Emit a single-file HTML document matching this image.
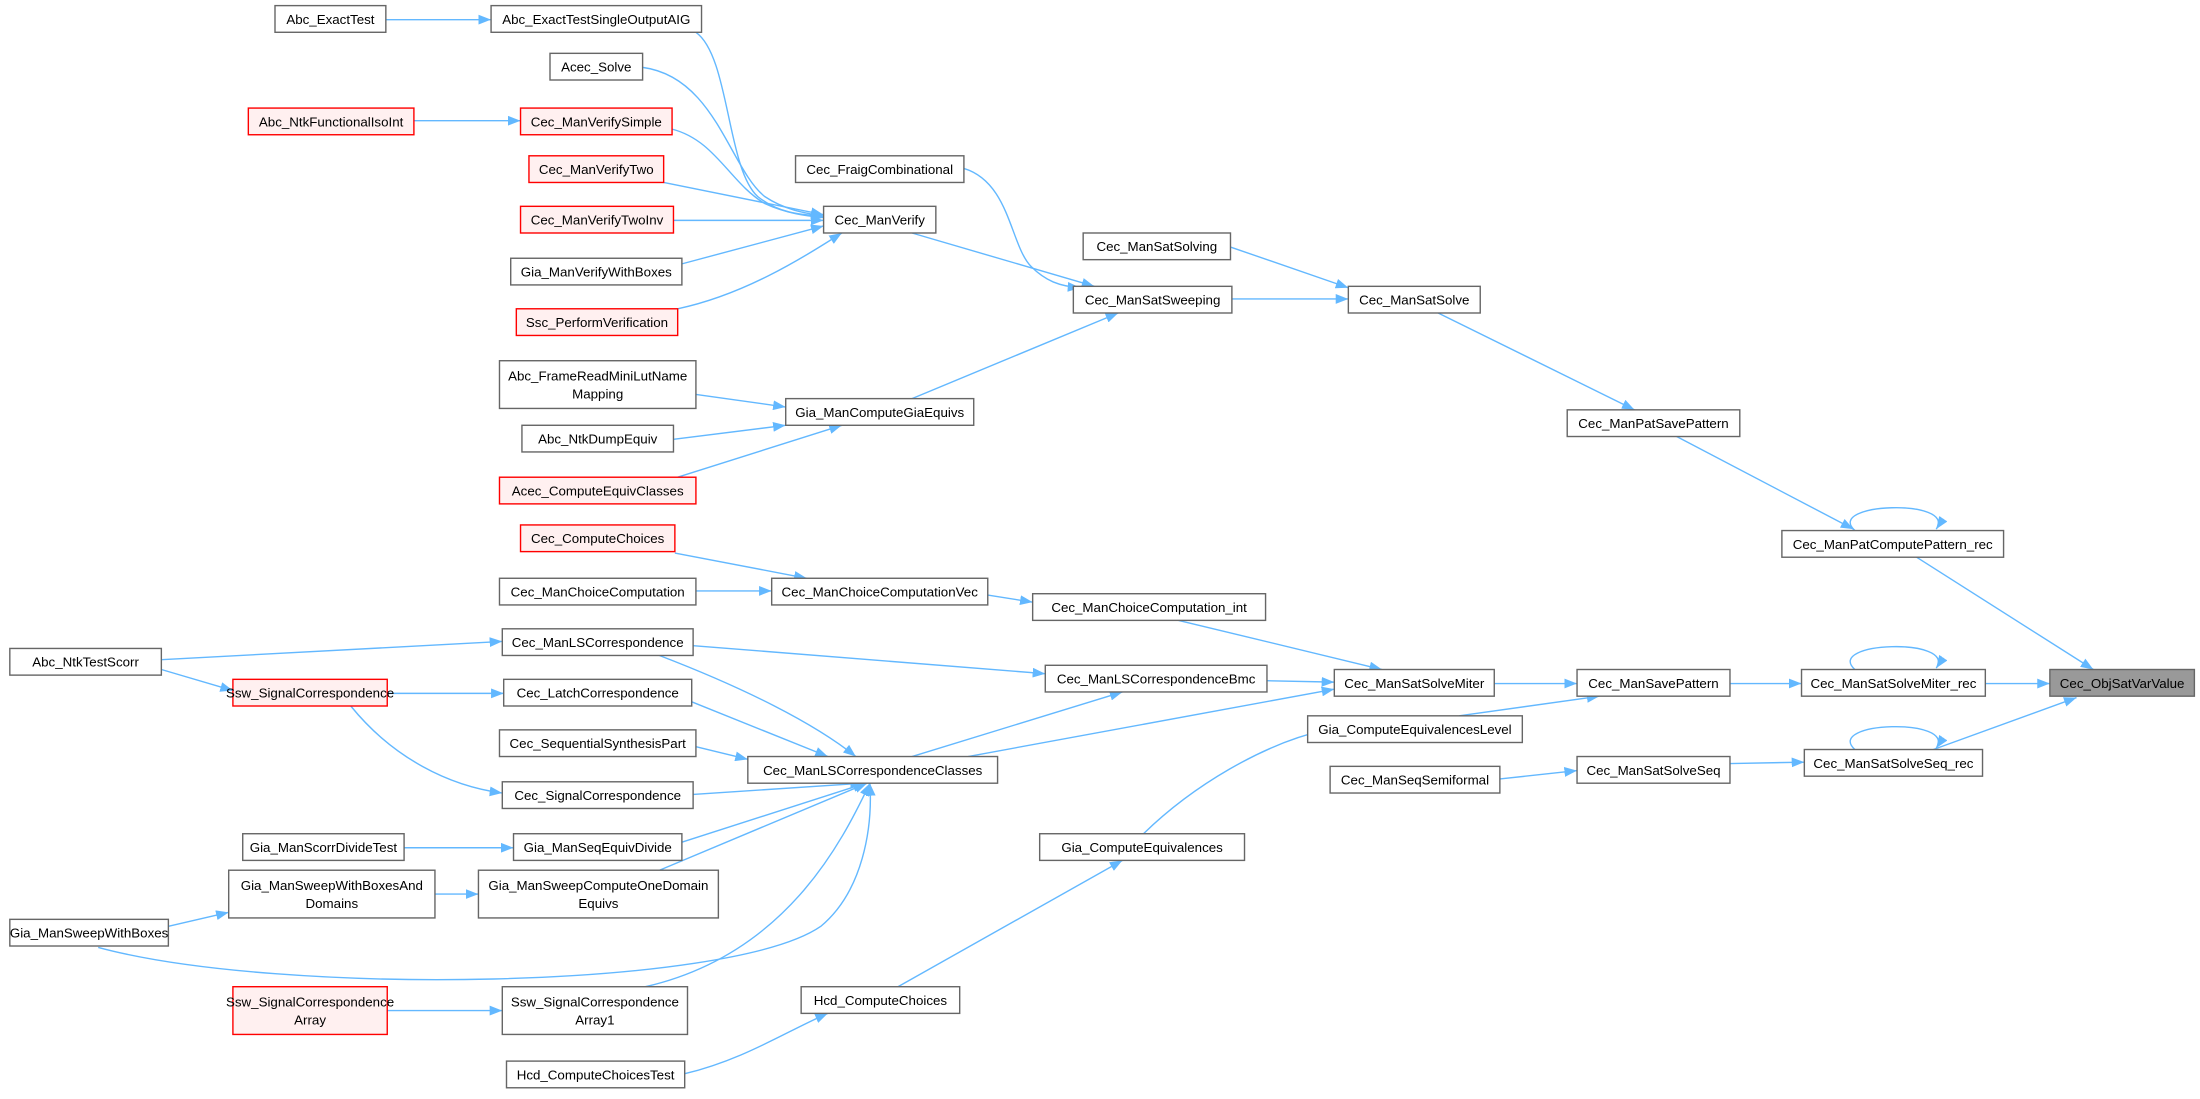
<!DOCTYPE html>
<html><head><meta charset="utf-8"><style>
html,body{margin:0;padding:0;background:#fff;}
svg{display:block;}
text{font-family:"Liberation Sans",Arial,sans-serif;font-size:9.5px;fill:#000;text-anchor:middle;}
.n{fill:#fff;stroke:#666;stroke-width:1;}
.r{fill:#fff0f0;stroke:#f00;stroke-width:1;}
.g{fill:#999;stroke:#666;stroke-width:1;}
.e{fill:none;stroke:#63b8ff;stroke-width:1;marker-end:url(#a);}
</style></head><body>
<svg width="2200" height="1099" viewBox="0 0 1568 783" preserveAspectRatio="none" xmlns="http://www.w3.org/2000/svg">
<defs><marker id="a" markerUnits="userSpaceOnUse" markerWidth="9" markerHeight="7" refX="9" refY="3.5" orient="auto"><path d="M0,0 L9,3.5 L0,7z" fill="#63b8ff"/></marker></defs>
<g>
<path class="e" d="M275,14 L350,14"/>
<path class="e" d="M496,23 C520,40 518,120 540,140 C555,152 570,153 587,154"/>
<path class="e" d="M458,48 C510,55 520,120 545,140 C560,150 575,152 587,154"/>
<path class="e" d="M295,86 L371,86"/>
<path class="e" d="M479,92 C510,100 520,130 545,145 C560,152 575,154 587,155"/>
<path class="e" d="M473,130 L587,153"/>
<path class="e" d="M480,157 L587,157"/>
<path class="e" d="M486,188 L587,161"/>
<path class="e" d="M483,220 C530,210 570,185 600,166"/>
<path class="e" d="M687,120 C720,130 720,175 735,190 C745,200 755,204 770,205"/>
<path class="e" d="M650,166 L780,204"/>
<path class="e" d="M650,284 L797,223"/>
<path class="e" d="M496,281 L560,290"/>
<path class="e" d="M480,313 L560,303"/>
<path class="e" d="M483,340 L600,303"/>
<path class="e" d="M877,176 L961,205"/>
<path class="e" d="M878,213 L961,213"/>
<path class="e" d="M1025,223 L1165,292"/>
<path class="e" d="M1195,311 L1321,377"/>
<path class="e" d="M1322,378 C1300,358 1395,355 1380,377"/>
<path class="e" d="M1366,397 L1492,477"/>
<path class="e" d="M1322,477 C1300,457 1395,454 1380,476"/>
<path class="e" d="M1415,487 L1461,487"/>
<path class="e" d="M1322,534 C1300,514 1395,511 1380,533"/>
<path class="e" d="M1378,534 L1480,497"/>
<path class="e" d="M1233,487 L1284,487"/>
<path class="e" d="M1233,544 L1286,543"/>
<path class="e" d="M1069,555 L1124,549"/>
<path class="e" d="M1065,487 L1124,487"/>
<path class="e" d="M1040,510 L1140,496"/>
<path class="e" d="M840,442 L985,477"/>
<path class="e" d="M903,485 L951,486"/>
<path class="e" d="M690,539 L951,491"/>
<path class="e" d="M650,539 L800,493"/>
<path class="e" d="M494,460 L745,480"/>
<path class="e" d="M704,424 L736,429"/>
<path class="e" d="M481,394 L575,412"/>
<path class="e" d="M496,421 L550,421"/>
<path class="e" d="M115,470 L358,457"/>
<path class="e" d="M115,477 L166,492"/>
<path class="e" d="M470,467 C530,490 580,515 610,539"/>
<path class="e" d="M276,494 L359,494"/>
<path class="e" d="M250,503 C280,540 320,560 358,565"/>
<path class="e" d="M493,500 L590,539"/>
<path class="e" d="M496,532 L533,541"/>
<path class="e" d="M494,566 L615,558"/>
<path class="e" d="M486,600 L617,558"/>
<path class="e" d="M470,620 L618,558"/>
<path class="e" d="M70,675 C200,710 520,705 585,660 C615,635 622,590 620,558"/>
<path class="e" d="M460,703 C560,680 600,600 620,558"/>
<path class="e" d="M288,604 L366,604"/>
<path class="e" d="M310,637 L341,637"/>
<path class="e" d="M120,660 L163,650"/>
<path class="e" d="M276,720 L358,720"/>
<path class="e" d="M815,594 C850,560 900,530 945,520"/>
<path class="e" d="M640,703 L800,613"/>
<path class="e" d="M488,765 C530,755 560,735 590,722"/>
</g>
<g>
<rect class="n" x="7" y="462" width="108" height="19"/><text x="61" y="475">Abc_NtkTestScorr</text>
<rect class="n" x="7" y="655" width="113" height="19"/><text x="63.5" y="668">Gia_ManSweepWithBoxes</text>
<rect class="n" x="196" y="4" width="79" height="19"/><text x="235.5" y="17">Abc_ExactTest</text>
<rect class="r" x="177" y="77" width="118" height="19"/><text x="236" y="90">Abc_NtkFunctionalIsoInt</text>
<rect class="r" x="166" y="484" width="110" height="19"/><text x="221" y="497">Ssw_SignalCorrespondence</text>
<rect class="n" x="173" y="594" width="115" height="19"/><text x="230.5" y="607">Gia_ManScorrDivideTest</text>
<rect class="n" x="163" y="620" width="147" height="34"/><text x="236.5" y="634">Gia_ManSweepWithBoxesAnd</text><text x="236.5" y="647">Domains</text>
<rect class="r" x="166" y="703" width="110" height="34"/><text x="221" y="717">Ssw_SignalCorrespondence</text><text x="221" y="730">Array</text>
<rect class="n" x="350" y="4" width="150" height="19"/><text x="425" y="17">Abc_ExactTestSingleOutputAIG</text>
<rect class="n" x="392" y="38" width="66" height="19"/><text x="425" y="51">Acec_Solve</text>
<rect class="r" x="371" y="77" width="108" height="19"/><text x="425" y="90">Cec_ManVerifySimple</text>
<rect class="r" x="377" y="111" width="96" height="19"/><text x="425" y="124">Cec_ManVerifyTwo</text>
<rect class="r" x="371" y="147" width="109" height="19"/><text x="425.5" y="160">Cec_ManVerifyTwoInv</text>
<rect class="n" x="364" y="184" width="122" height="19"/><text x="425" y="197">Gia_ManVerifyWithBoxes</text>
<rect class="r" x="368" y="220" width="115" height="19"/><text x="425.5" y="233">Ssc_PerformVerification</text>
<rect class="n" x="356" y="257" width="140" height="34"/><text x="426" y="271">Abc_FrameReadMiniLutName</text><text x="426" y="284">Mapping</text>
<rect class="n" x="372" y="303" width="108" height="19"/><text x="426" y="316">Abc_NtkDumpEquiv</text>
<rect class="r" x="356" y="340" width="140" height="19"/><text x="426" y="353">Acec_ComputeEquivClasses</text>
<rect class="r" x="371" y="374" width="110" height="19"/><text x="426" y="387">Cec_ComputeChoices</text>
<rect class="n" x="356" y="412" width="140" height="19"/><text x="426" y="425">Cec_ManChoiceComputation</text>
<rect class="n" x="358" y="448" width="136" height="19"/><text x="426" y="461">Cec_ManLSCorrespondence</text>
<rect class="n" x="359" y="484" width="134" height="19"/><text x="426" y="497">Cec_LatchCorrespondence</text>
<rect class="n" x="356" y="520" width="140" height="19"/><text x="426" y="533">Cec_SequentialSynthesisPart</text>
<rect class="n" x="358" y="557" width="136" height="19"/><text x="426" y="570">Cec_SignalCorrespondence</text>
<rect class="n" x="366" y="594" width="120" height="19"/><text x="426" y="607">Gia_ManSeqEquivDivide</text>
<rect class="n" x="341" y="620" width="171" height="34"/><text x="426.5" y="634">Gia_ManSweepComputeOneDomain</text><text x="426.5" y="647">Equivs</text>
<rect class="n" x="358" y="703" width="132" height="34"/><text x="424" y="717">Ssw_SignalCorrespondence</text><text x="424" y="730">Array1</text>
<rect class="n" x="361" y="756" width="127" height="19"/><text x="424.5" y="769">Hcd_ComputeChoicesTest</text>
<rect class="n" x="567" y="111" width="120" height="19"/><text x="627" y="124">Cec_FraigCombinational</text>
<rect class="n" x="587" y="147" width="80" height="19"/><text x="627" y="160">Cec_ManVerify</text>
<rect class="n" x="560" y="284" width="134" height="19"/><text x="627" y="297">Gia_ManComputeGiaEquivs</text>
<rect class="n" x="550" y="412" width="154" height="19"/><text x="627" y="425">Cec_ManChoiceComputationVec</text>
<rect class="n" x="533" y="539" width="178" height="19"/><text x="622" y="552">Cec_ManLSCorrespondenceClasses</text>
<rect class="n" x="571" y="703" width="113" height="19"/><text x="627.5" y="716">Hcd_ComputeChoices</text>
<rect class="n" x="772" y="166" width="105" height="19"/><text x="824.5" y="179">Cec_ManSatSolving</text>
<rect class="n" x="765" y="204" width="113" height="19"/><text x="821.5" y="217">Cec_ManSatSweeping</text>
<rect class="n" x="736" y="423" width="166" height="19"/><text x="819" y="436">Cec_ManChoiceComputation_int</text>
<rect class="n" x="745" y="474" width="158" height="19"/><text x="824" y="487">Cec_ManLSCorrespondenceBmc</text>
<rect class="n" x="932" y="510" width="153" height="19"/><text x="1008.5" y="523">Gia_ComputeEquivalencesLevel</text>
<rect class="n" x="948" y="546" width="121" height="19"/><text x="1008.5" y="559">Cec_ManSeqSemiformal</text>
<rect class="n" x="741" y="594" width="146" height="19"/><text x="814" y="607">Gia_ComputeEquivalences</text>
<rect class="n" x="961" y="204" width="94" height="19"/><text x="1008" y="217">Cec_ManSatSolve</text>
<rect class="n" x="951" y="477" width="114" height="19"/><text x="1008" y="490">Cec_ManSatSolveMiter</text>
<rect class="n" x="1117" y="292" width="123" height="19"/><text x="1178.5" y="305">Cec_ManPatSavePattern</text>
<rect class="n" x="1124" y="477" width="109" height="19"/><text x="1178.5" y="490">Cec_ManSavePattern</text>
<rect class="n" x="1124" y="539" width="109" height="19"/><text x="1178.5" y="552">Cec_ManSatSolveSeq</text>
<rect class="n" x="1270" y="378" width="158" height="19"/><text x="1349" y="391">Cec_ManPatComputePattern_rec</text>
<rect class="n" x="1284" y="477" width="131" height="19"/><text x="1349.5" y="490">Cec_ManSatSolveMiter_rec</text>
<rect class="n" x="1286" y="534" width="127" height="19"/><text x="1349.5" y="547">Cec_ManSatSolveSeq_rec</text>
<rect class="g" x="1461" y="477" width="103" height="19"/><text x="1512.5" y="490">Cec_ObjSatVarValue</text>
</g>
</svg>
</body></html>
